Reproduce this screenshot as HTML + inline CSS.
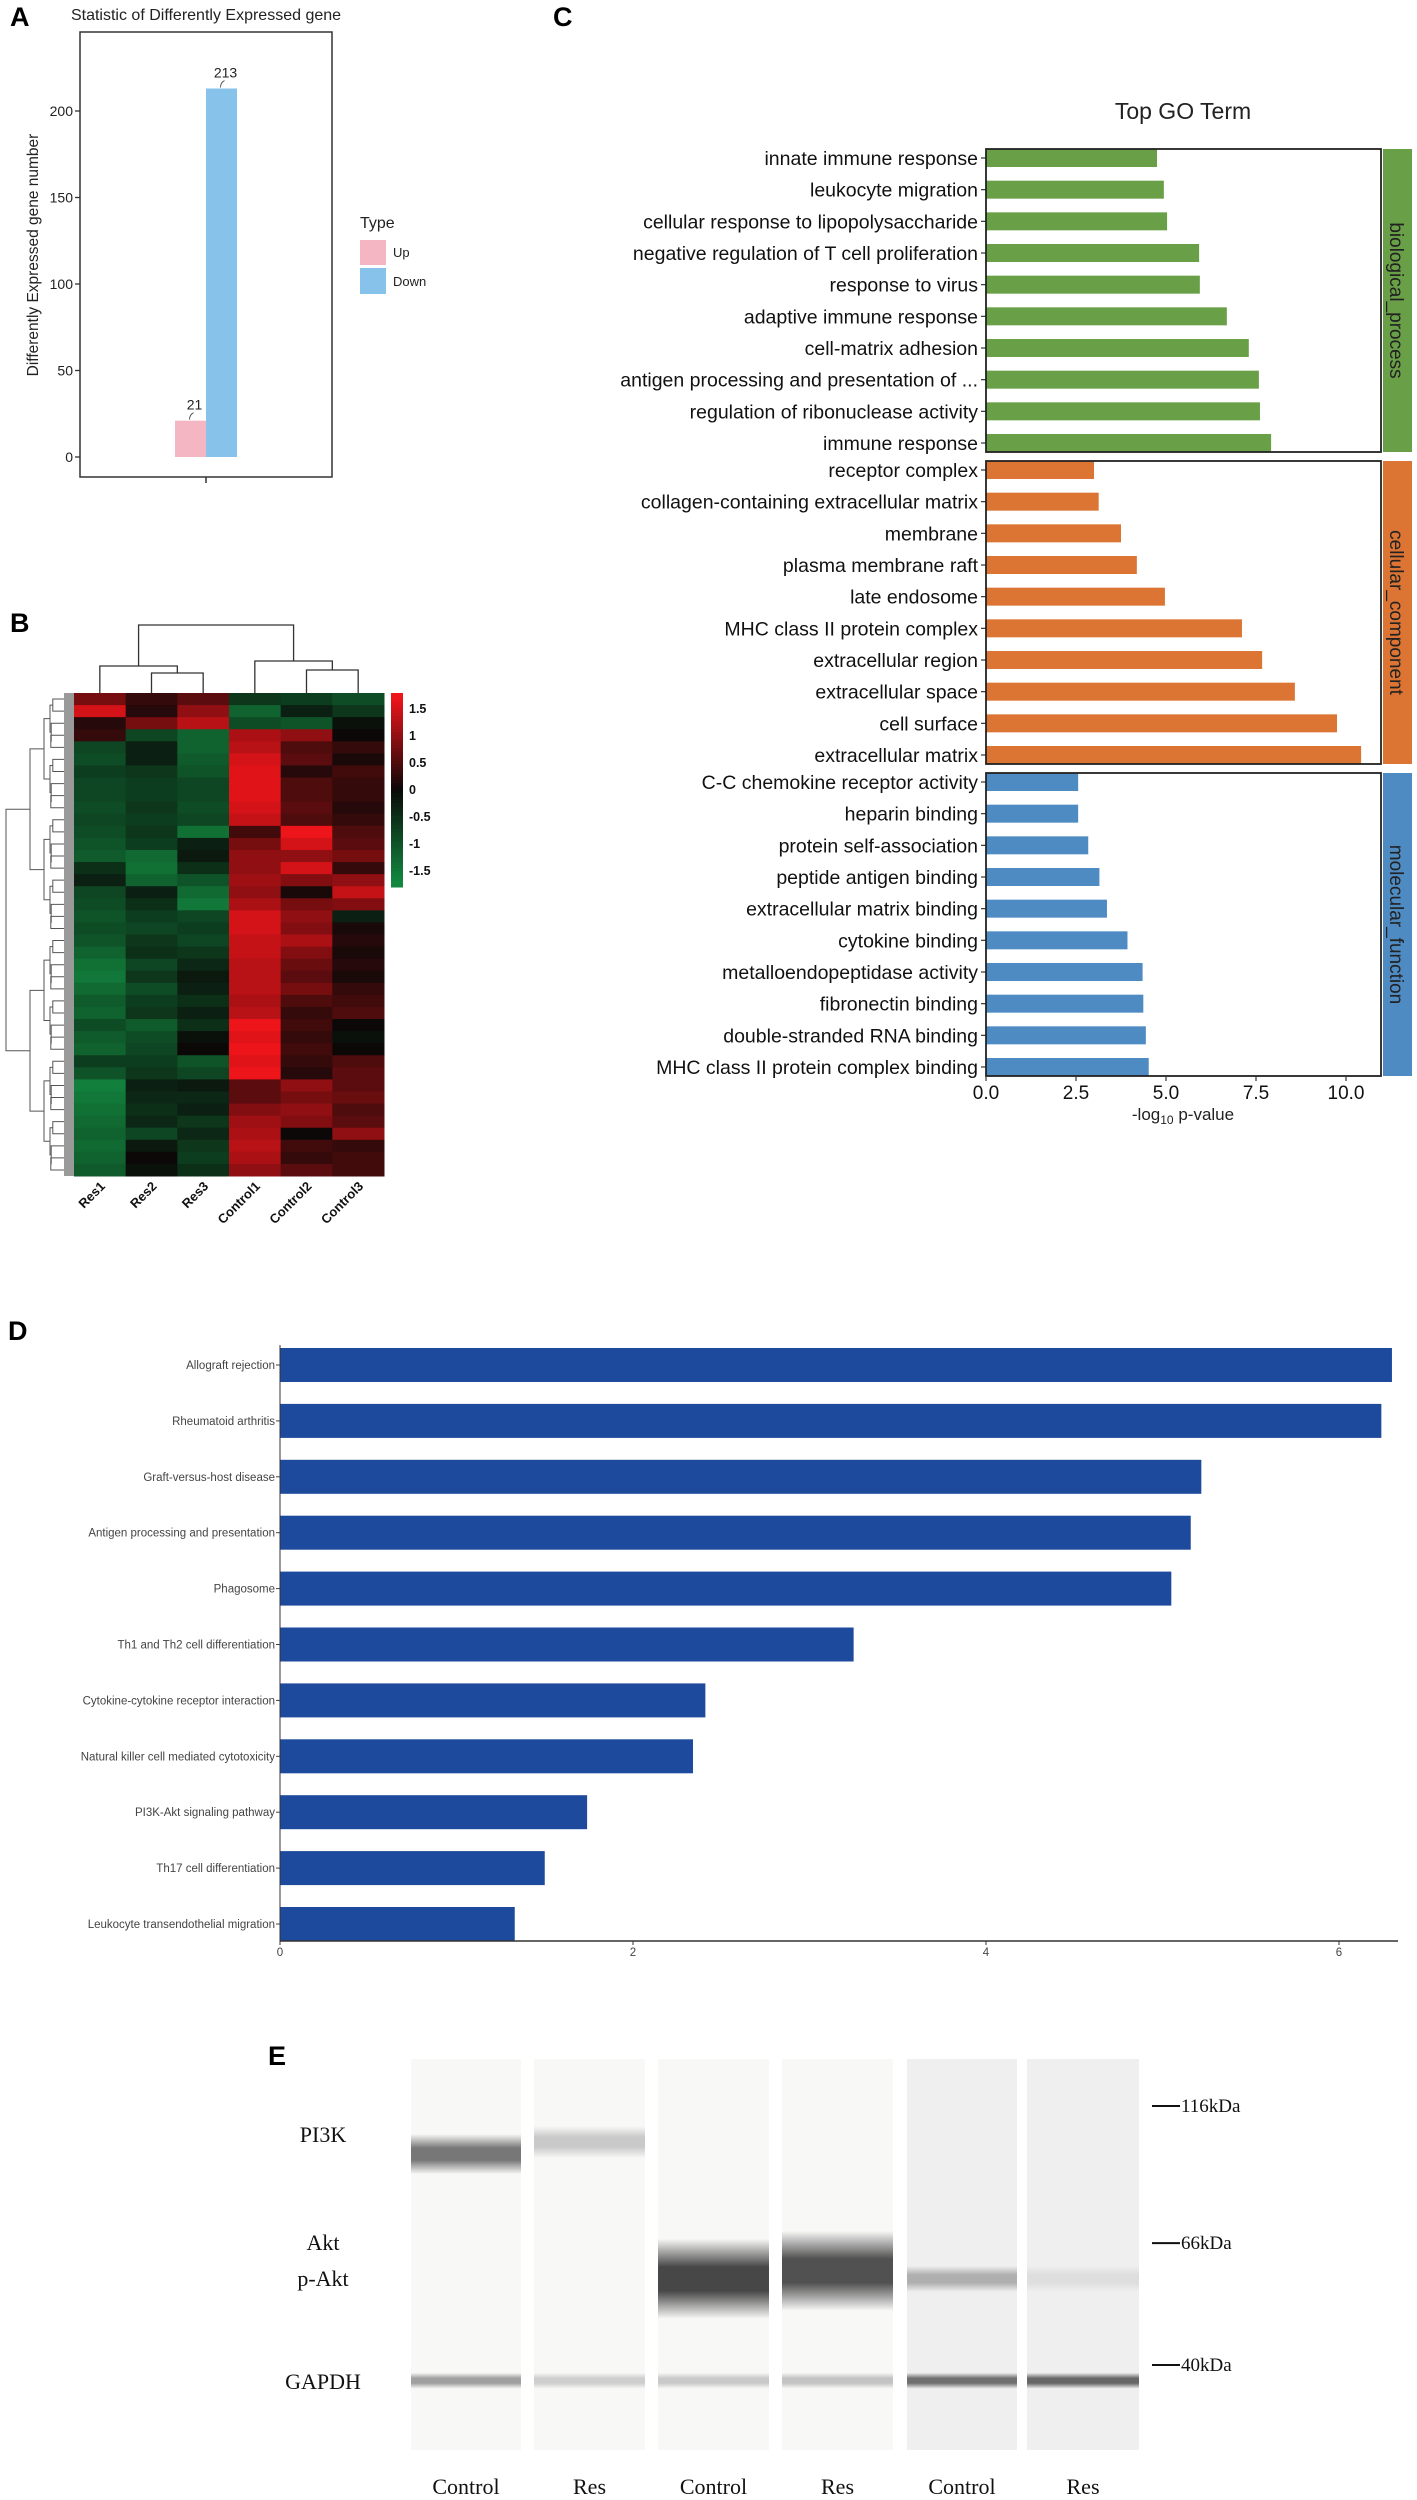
<!DOCTYPE html>
<html><head><meta charset="utf-8">
<style>
html,body{margin:0;padding:0;background:#fff;}
svg{display:block;font-family:"Liberation Sans",Arial,sans-serif;}
.serif{font-family:"Liberation Serif","Times New Roman",serif;}
</style></head>
<body>
<svg id="fig" width="1417" height="2500" viewBox="0 0 1417 2500" xmlns="http://www.w3.org/2000/svg">
<rect x="0" y="0" width="1417" height="2500" fill="#fff"/>
<!-- Panel A static -->
<g id="panelA">
  <text x="10" y="26" font-size="27" font-weight="bold">A</text>
  <text x="206" y="20" font-size="16" text-anchor="middle" fill="#222">Statistic of Differently Expressed gene</text>
  <rect x="80" y="32" width="252" height="445" fill="none" stroke="#333" stroke-width="1.5"/>
  <text transform="translate(38,255) rotate(-90)" font-size="15.5" text-anchor="middle" fill="#222">Differently Expressed gene number</text>
  <g id="aTicks"></g>
  <g id="aBars"></g>
  <line x1="206" y1="477" x2="206" y2="483" stroke="#333" stroke-width="1.5"/>
  <text x="360" y="228" font-size="16" fill="#222">Type</text>
  <rect x="360" y="240" width="26" height="25" fill="#f4b6c2"/>
  <rect x="360" y="268" width="26" height="26" fill="#86c2ea"/>
  <text x="393" y="257" font-size="13" fill="#222">Up</text>
  <text x="393" y="286" font-size="13" fill="#222">Down</text>
</g>
<!-- Panel B -->
<g id="panelB">
  <text x="10" y="632" font-size="27" font-weight="bold">B</text>
  <g id="bCells"></g>
  <g id="bDendroTop" stroke="#333" stroke-width="1.3" fill="none"></g>
  <g id="bDendroLeft" stroke="#555" stroke-width="1" fill="none"></g>
  <g id="bColorbar"></g>
  <g id="bColLabels"></g>
</g>
<!-- Panel C -->
<g id="panelC">
  <text x="553" y="26" font-size="27" font-weight="bold">C</text>
  <text x="1183" y="119" font-size="23" text-anchor="middle" fill="#222">Top GO Term</text>
  <g id="cBars"></g>
  <g id="cAxis"></g>
  <text x="1183" y="1120" font-size="17" text-anchor="middle" fill="#222">-log<tspan font-size="12" dy="4">10</tspan><tspan dy="-4"> p-value</tspan></text>
</g>
<!-- Panel D -->
<g id="panelD">
  <text x="8" y="1340" font-size="27" font-weight="bold">D</text>
  <g id="dBars"></g>
  <g id="dAxis"></g>
</g>
<!-- Panel E -->
<g id="panelE">
  <text x="268" y="2065" font-size="27" font-weight="bold">E</text>
  <defs id="eDefs"></defs>
  <g id="eLanes"></g>
  <g class="serif" font-size="22" fill="#111" text-anchor="middle">
    <text x="323" y="2142">PI3K</text>
    <text x="323" y="2250">Akt</text>
    <text x="323" y="2286">p-Akt</text>
    <text x="323" y="2389">GAPDH</text>
  </g>
  <g id="eMarkers"></g>
  <g id="eLaneLabels"></g>
</g>
</svg>
<script>
// ===== Panel A data =====
const degTypes = ["Up","Down"];
const degCounts = [21, 213];
const aTickVals = [0,50,100,150,200];

// ===== Panel B data (40 row bands x 6 samples, z-scores) =====
const hmSamples = ["Res1","Res2","Res3","Control1","Control2","Control3"];
const hmRes1 = [0.8,1.5,0.2,0.3,-0.8,-0.9,-0.7,-0.8,-0.8,-0.9,-0.8,-0.9,-1.0,-1.1,-0.5,-0.3,-0.8,-0.9,-1.0,-0.9,-1.0,-1.2,-1.4,-1.5,-1.3,-1.1,-1.2,-0.9,-1.1,-1.2,-0.7,-1.0,-1.6,-1.5,-1.4,-1.3,-1.2,-1.3,-1.2,-1.1];
const hmRes2 = [0.3,0.2,0.8,-0.8,-0.3,-0.3,-0.6,-0.7,-0.7,-0.6,-0.7,-0.6,-0.7,-1.3,-1.4,-1.2,-0.3,-0.5,-0.7,-0.8,-0.6,-0.5,-0.8,-0.6,-0.9,-0.7,-0.6,-1.1,-0.9,-0.8,-0.7,-0.6,-0.3,-0.4,-0.5,-0.4,-0.8,-0.2,0.0,-0.1];
const hmRes3 = [0.6,1.0,1.3,-1.2,-1.2,-1.1,-1.0,-0.8,-0.8,-0.9,-0.8,-1.4,-0.3,-0.2,-0.5,-1.0,-1.3,-1.5,-0.8,-0.7,-0.8,-0.6,-0.4,-0.2,-0.3,-0.5,-0.3,-0.5,-0.1,0.0,-1.0,-0.8,-0.2,-0.4,-0.3,-0.6,-0.4,-0.6,-0.7,-0.5];
const hmCtrl1 = [-0.6,-1.2,-0.9,1.2,1.3,1.5,1.6,1.6,1.6,1.5,1.4,0.4,0.8,1.0,1.0,1.1,1.0,1.2,1.5,1.5,1.4,1.4,1.3,1.3,1.3,1.2,1.3,1.7,1.6,1.7,1.6,1.7,0.6,0.6,0.9,1.1,1.2,1.3,1.2,1.0];
const hmCtrl2 = [-0.7,-0.3,-1.0,1.0,0.5,0.6,0.2,0.5,0.5,0.6,0.5,1.7,1.5,1.0,1.5,0.9,0.1,0.8,1.0,0.9,1.2,0.9,0.7,0.6,0.8,0.5,0.3,0.4,0.3,0.4,0.3,0.2,1.0,0.8,1.0,0.9,0.0,0.4,0.3,0.6];
const hmCtrl3 = [-0.9,-0.6,-0.1,0.0,0.3,0.1,0.4,0.3,0.3,0.2,0.3,0.5,0.6,0.8,0.3,1.0,1.4,0.9,-0.3,0.1,0.2,0.1,0.2,0.1,0.3,0.4,0.5,0.0,-0.1,0.0,0.5,0.6,0.6,0.7,0.5,0.6,1.0,0.3,0.4,0.4];
const hmLegendTicks = ["1.5","1","0.5","0","-0.5","-1","-1.5"];

// ===== Panel C data =====
const goBPTerms = ["innate immune response","leukocyte migration","cellular response to lipopolysaccharide","negative regulation of T cell proliferation","response to virus","adaptive immune response","cell-matrix adhesion","antigen processing and presentation of ...","regulation of ribonuclease activity","immune response"];
const goBPValues = [4.75,4.94,5.03,5.92,5.94,6.69,7.30,7.58,7.61,7.92];
const goCCTerms = ["receptor complex","collagen-containing extracellular matrix","membrane","plasma membrane raft","late endosome","MHC class II protein complex","extracellular region","extracellular space","cell surface","extracellular matrix"];
const goCCValues = [3.00,3.13,3.75,4.19,4.97,7.11,7.67,8.58,9.75,10.42];
const goMFTerms = ["C-C chemokine receptor activity","heparin binding","protein self-association","peptide antigen binding","extracellular matrix binding","cytokine binding","metalloendopeptidase activity","fibronectin binding","double-stranded RNA binding","MHC class II protein complex binding"];
const goMFValues = [2.56,2.56,2.84,3.15,3.36,3.93,4.35,4.37,4.44,4.52];
const goFacets = ["biological_process","cellular_component","molecular_function"];
const goTicks = [0,2.5,5,7.5,10];
const goTickLabels = ["0.0","2.5","5.0","7.5","10.0"];

// ===== Panel D data =====
const keggTerms = ["Allograft rejection","Rheumatoid arthritis","Graft-versus-host disease","Antigen processing and presentation","Phagosome","Th1 and Th2 cell differentiation","Cytokine-cytokine receptor interaction","Natural killer cell mediated cytotoxicity","PI3K-Akt signaling pathway","Th17 cell differentiation","Leukocyte transendothelial migration"];
const keggValues = [6.30,6.24,5.22,5.16,5.05,3.25,2.41,2.34,1.74,1.50,1.33];
const keggTicks = [0,2,4,6];

// ===== Panel E data =====
const blotLanes = ["Control","Res","Control","Res","Control","Res"];
const blotMarkers = ["116kDa","66kDa","40kDa"];
const blotMarkerKDa = [116,66,40];
const pi3kIntensity = [0.62,0.22,0,0,0,0];
const aktIntensity = [0,0,0.85,0.8,0.35,0.12];
const gapdhIntensity = [0.42,0.2,0.22,0.25,0.65,0.7];

const NS="http://www.w3.org/2000/svg";
function mk(tag, attrs, parent){const e=document.createElementNS(NS,tag);for(const k in attrs)e.setAttribute(k,attrs[k]);if(parent)parent.appendChild(e);return e;}

// ---------- Panel A ----------
(function(){
  const y0=457, ppu=86.5/50;
  const yA=v=>y0-v*ppu;
  const gT=document.getElementById('aTicks');
  aTickVals.forEach(v=>{
    const l=mk('line',{x1:75,x2:80,y1:yA(v),y2:yA(v),stroke:'#333','stroke-width':1.3},gT);
    
    
    const t=mk('text',{x:73,y:yA(v)+5,'font-size':14,'text-anchor':'end',fill:'#222'},gT);
    t.textContent=v;
    
    
  });
  const gB=document.getElementById('aBars');
  const colors=['#f4b6c2','#86c2ea'];
  const xs=[175,206], w=31;
  degCounts.forEach((v,i)=>{
    const r=mk('rect',{x:xs[i],y:yA(v),width:w,height:v*ppu,fill:colors[i]},gB);
    
    
    const cx=xs[i]+w/2;
    mk('path',{d:`M${cx-1},${yA(v)-1} q0,-5 4,-7`,stroke:'#555',fill:'none','stroke-width':1},gB);
    const t=mk('text',{x:cx+4,y:yA(v)-11,'font-size':14,'text-anchor':'middle',fill:'#222'},gB);
    t.textContent=v;
    
    
  });
})();

// ---------- Panel B ----------
(function(){
  const cols=[hmRes1,hmRes2,hmRes3,hmCtrl1,hmCtrl2,hmCtrl3];
  const x0=74, x1=384, y0=693, y1=1176;
  const cw=(x1-x0)/cols.length;
  const nRows=hmRes1.length, rh=(y1-y0)/nRows;
  function col(v){
    const t=Math.max(-1,Math.min(1,v/1.7));
    if(t>=0){return `rgb(${Math.round(12+225*t)},${Math.round(8+12*t)},${Math.round(8+18*t)})`;}
    const a=-t;return `rgb(${Math.round(10+8*a)},${Math.round(10+125*a)},${Math.round(8+55*a)})`;
  }
  const g=document.getElementById('bCells');
  cols.forEach((arr,c)=>{
    arr.forEach((v,r)=>{
      const cell=mk('rect',{x:x0+c*cw,y:y0+r*rh,width:cw+0.5,height:rh+0.5,fill:col(v)},g);
      
      
    });
  });
  // gray leaf ticks
  const leaf=mk('rect',{x:64,y:y0,width:10,height:y1-y0,fill:'#9a9a9a'},g);
  
  
  // top dendrogram
  const cx=i=>x0+cw*(i+0.5);
  const td=document.getElementById('bDendroTop');
  
  
  const lm=(cx(1)+cx(2))/2, rm=(cx(4)+cx(5))/2;
  const L1=(cx(0)+lm)/2, R1=(cx(3)+rm)/2;
  const paths=[
    `M${cx(1)},693V673H${cx(2)}V693`,
    `M${cx(0)},693V666H${lm}V673`,
    `M${cx(4)},693V670H${cx(5)}V693`,
    `M${cx(3)},693V661H${rm}V670`,
    `M${L1},666V625H${R1}V661`];
  paths.forEach(d=>mk('path',{d},td));
  // left dendrogram (simplified recursive)
  const ld=document.getElementById('bDendroLeft');
  
  
  function build(a,b,depth){
    if(b-a<=1){return {y:y0+(a+0.5)*rh,x:64};}
    const m=Math.floor((a+b)/2);
    const L=build(a,m,depth+1), R=build(m,b,depth+1);
    const x=Math.max(6,64-(b-a)*1.6-depth*2);
    mk('path',{d:`M${L.x},${L.y}H${x}V${R.y}H${R.x}`},ld);
    return {y:(L.y+R.y)/2,x};
  }
  build(0,nRows,0);
  // colorbar
  const cb=document.getElementById('bColorbar');
  const cbx=391, cby0=693, cby1=887, steps=60;
  for(let i=0;i<steps;i++){
    const v=1.8-3.6*(i+0.5)/steps;
    mk('rect',{x:cbx,y:cby0+i*(cby1-cby0)/steps,width:12,height:(cby1-cby0)/steps+0.5,fill:col(v)},cb);
  }
  
  
  hmLegendTicks.forEach((s,i)=>{
    const v=parseFloat(s);
    const y=cby0+(1.8-v)/3.6*(cby1-cby0);
    const t=mk('text',{x:409,y:y+4,'font-size':12.5,'font-weight':'bold',fill:'#111'},cb);
    t.textContent=s;
    
    
  });
  const cl=document.getElementById('bColLabels');
  hmSamples.forEach((s,i)=>{
    const t=mk('text',{transform:`translate(${cx(i)+6},1187) rotate(-45)`,'font-size':13,'font-weight':'bold','text-anchor':'end',fill:'#111'},cl);
    t.textContent=s;
    
    
  });
})();

// ---------- Panel C ----------
(function(){
  const x0=986, ppu=36.0, boxR=1381;
  const xS=v=>x0+v*ppu;
  const facetTops=[149,461,773], fh=303, spacing=(fh-18)/9, bh=18;
  const data=[[goBPTerms,goBPValues,'#69a047'],[goCCTerms,goCCValues,'#dc7533'],[goMFTerms,goMFValues,'#4f8bc3']];
  const g=document.getElementById('cBars');
  data.forEach(([terms,vals,color],f)=>{
    const top=facetTops[f];
    vals.forEach((v,i)=>{
      const y=top+i*spacing;
      const r=mk('rect',{x:x0,y:y,width:xS(v)-x0,height:bh,fill:color},g);
      
      
      mk('line',{x1:x0-5,x2:x0,y1:y+bh/2,y2:y+bh/2,stroke:'#333','stroke-width':1.2},g);
      const t=mk('text',{x:x0-8,y:y+bh/2+7,'font-size':19.5,'text-anchor':'end',fill:'#111'},g);
      t.textContent=terms[i];
      
      
    });
    const fr=mk('rect',{x:x0,y:top,width:boxR-x0,height:fh,fill:'none',stroke:'#222','stroke-width':1.8},g);
    
    
    const st=mk('rect',{x:1383,y:top,width:29,height:fh,fill:color},g);
    
    
    const tx=mk('text',{transform:`translate(1390,${top+fh/2}) rotate(90)`,'font-size':19,'text-anchor':'middle',fill:'#222'},g);
    tx.textContent=goFacets[f];
    
    
  });
  const a=document.getElementById('cAxis');
  goTicks.forEach((v,i)=>{
    mk('line',{x1:xS(v),x2:xS(v),y1:1076,y2:1081,stroke:'#333','stroke-width':1.2},a);
    const t=mk('text',{x:xS(v),y:1099,'font-size':19,'text-anchor':'middle',fill:'#111'},a);
    t.textContent=goTickLabels[i];
    
    
  });
})();

// ---------- Panel D ----------
(function(){
  const x0=280, ppu=176.5, top=1348, bh=34, sp=55.9;
  const xS=v=>x0+v*ppu;
  const g=document.getElementById('dBars');
  keggValues.forEach((v,i)=>{
    const y=top+i*sp;
    const r=mk('rect',{x:x0,y:y,width:xS(v)-x0,height:bh,fill:'#1e4a9d'},g);
    
    
    mk('line',{x1:x0-4,x2:x0,y1:y+bh/2,y2:y+bh/2,stroke:'#444','stroke-width':1},g);
    const t=mk('text',{x:x0-5,y:y+bh/2+4,'font-size':11.5,'text-anchor':'end',fill:'#444'},g);
    t.textContent=keggTerms[i];
    
    
  });
  const a=document.getElementById('dAxis');
  mk('line',{x1:x0,x2:x0,y1:1345,y2:1941,stroke:'#333','stroke-width':1},a);
  mk('line',{x1:x0,x2:1398,y1:1941,y2:1941,stroke:'#333','stroke-width':1.5},a);
  keggTicks.forEach(v=>{
    mk('line',{x1:xS(v),x2:xS(v),y1:1941,y2:1945,stroke:'#333','stroke-width':1},a);
    const t=mk('text',{x:xS(v),y:1956,'font-size':11.5,'text-anchor':'middle',fill:'#444'},a);
    t.textContent=v;
    
    
  });
})();

// ---------- Panel E ----------
(function(){
  const laneX=[411,534,658,782,907,1027], laneW=[110,111,111,111,110,112];
  const yTop=2059, yBot=2450;
  // kDa -> y (log scale through marker positions)
  const kdaY=k=>{const a=Math.log(116),b=Math.log(40);return 2106+(a-Math.log(k))/(a-b)*(2365-2106);};
  const defs=document.getElementById('eDefs');
  const g=document.getElementById('eLanes');
  const grey=t=>{const c=Math.round(247-t*(247-40));return `rgb(${c},${c},${c})`;};
  function band(x,w,yc,h,t,id){
    const gr=mk('linearGradient',{id:id,x1:0,y1:0,x2:0,y2:1},defs);
    mk('stop',{offset:'0','stop-color':grey(t),'stop-opacity':0},gr);
    mk('stop',{offset:'0.35','stop-color':grey(t),'stop-opacity':1},gr);
    mk('stop',{offset:'0.65','stop-color':grey(t),'stop-opacity':1},gr);
    mk('stop',{offset:'1','stop-color':grey(t),'stop-opacity':0},gr);
    const r=mk('rect',{x:x,y:yc-h/2,width:w,height:h,fill:`url(#${id})`},g);
    return r;
  }
  blotLanes.forEach((name,i)=>{
    const bg=mk('rect',{x:laneX[i],y:yTop,width:laneW[i],height:yBot-yTop,fill:i>=4?'#efefef':'#f8f8f7'},g);
    
    
    if(pi3kIntensity[i]>0){
      const b=band(laneX[i],laneW[i],kdaY(100)+(i===0?12:0),i===0?40:32,pi3kIntensity[i],'p'+i);
      
      
    }
    if(aktIntensity[i]>0){
      const big=aktIntensity[i]>0.5;
      const b=band(laneX[i],laneW[i],kdaY(57)-(i===3?8:0),big?80:26,aktIntensity[i],'a'+i);
      
      
    }
    const b=band(laneX[i],laneW[i],kdaY(37.5),16,gapdhIntensity[i],'g'+i);
    
    
    const t=mk('text',{x:laneX[i]+laneW[i]/2,y:2494,'font-size':22,'text-anchor':'middle',fill:'#111',class:'serif'},document.getElementById('eLaneLabels'));
    t.textContent=name;
    
    
  });
  const m=document.getElementById('eMarkers');
  blotMarkers.forEach((s,i)=>{
    const y=kdaY(blotMarkerKDa[i]);
    mk('line',{x1:1152,x2:1180,y1:y,y2:y,stroke:'#111','stroke-width':2},m);
    const t=mk('text',{x:1181,y:y+6,'font-size':19,fill:'#111',class:'serif'},m);
    t.textContent=s;
    
    
  });
})();
</script>
</body></html>
